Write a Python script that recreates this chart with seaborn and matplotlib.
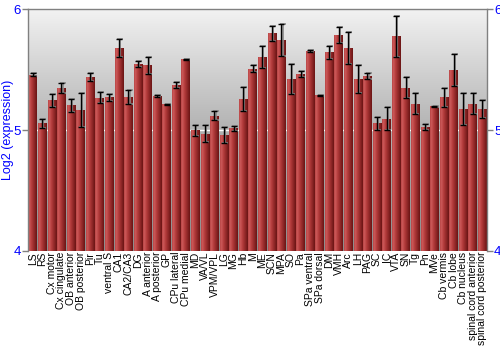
import numpy as np
import pandas as pd
import matplotlib
matplotlib.use("Agg")
import matplotlib.pyplot as plt
import seaborn as sns
from matplotlib.colors import LinearSegmentedColormap

regions = ["LS", "RS", "Cx motor", "Cx cingulate", "OB anterior", "OB posterior", "Pir", "Tu",
           "ventral S", "CA1", "CA2/CA3", "DG", "A anterior", "A posterior", "GP", "CPu lateral",
           "CPu medial", "MD", "VA/VL", "VPM/VPL", "LG", "MG", "Hb", "M", "ME", "SCN", "MPA", "SO",
           "Pa", "SPa ventral", "SPa dorsal", "DM", "VMH", "Arc", "LH", "PAG", "SC", "IC", "VTA",
           "SN", "Tg", "Pn", "MVe", "Cb vermis", "Cb lobe", "Cb nucleus", "spinal cord anterior",
           "spinal cord posterior"]
values = [5.46, 5.055, 5.246, 5.348, 5.204, 5.168, 5.436, 5.268, 5.271, 5.682, 5.273, 5.547,
          5.536, 5.282, 5.213, 5.373, 5.588, 4.997, 4.970, 5.119, 4.959, 5.014, 5.257, 5.508,
          5.605, 5.801, 5.746, 5.423, 5.464, 5.655, 5.287, 5.646, 5.790, 5.680, 5.420, 5.450,
          5.055, 5.094, 5.779, 5.351, 5.218, 5.025, 5.199, 5.273, 5.497, 5.174, 5.218, 5.174]
errors = [0.01, 0.04, 0.056, 0.04, 0.055, 0.14, 0.033, 0.045, 0.03, 0.076, 0.057, 0.028,
          0.072, 0.006, 0.003, 0.026, 0.005, 0.044, 0.073, 0.039, 0.069, 0.022, 0.097, 0.03,
          0.09, 0.065, 0.13, 0.124, 0.023, 0.012, 0.002, 0.055, 0.068, 0.13, 0.117, 0.026,
          0.056, 0.095, 0.17, 0.086, 0.088, 0.022, 0.004, 0.079, 0.134, 0.135, 0.088, 0.072]
y_ticks = [4, 5, 6]

sns.set_theme(style="white")
plt.rcParams["font.family"] = ["Liberation Sans", "DejaVu Sans"]

fig = plt.figure(figsize=(5, 3.5), dpi=100)
ax = fig.add_axes([0.056, 0.284, 0.918, 0.689])

df = pd.DataFrame({"region": regions, "value": values})
sns.barplot(data=df, x="region", y="value", ax=ax, color="#b03a3a", width=0.9,
            errorbar=None, zorder=2, saturation=1)

ax.set_xlim(-0.5, len(regions) - 0.5)
ax.set_ylim(4, 6)

# background vertical gradient
bg_cmap = LinearSegmentedColormap.from_list("bg", ["#8c8c8c", "#b2b2b2", "#f2f2f2"])
grad_v = np.linspace(0, 1, 256).reshape(-1, 1)
ax.imshow(grad_v, extent=[-0.5, len(regions) - 0.5, 4, 6], origin="lower", cmap=bg_cmap,
          aspect="auto", zorder=0)
ax.axhline(5, color="white", lw=1, zorder=1)

# bar horizontal gradient
bar_cmap = LinearSegmentedColormap.from_list(
    "bar", [(0.0, "#b84444"), (0.15, "#cc5a5a"), (0.4, "#b53c3c"), (1.0, "#6a1414")])
grad_h = np.linspace(0, 1, 64).reshape(1, -1)
for p in ax.patches:
    x0 = p.get_x(); w = p.get_width(); h = p.get_height()
    im = ax.imshow(grad_h, extent=[x0, x0 + w, 4, h], cmap=bar_cmap, aspect="auto", zorder=2.5)
    im.set_clip_path(p)
    p.set_edgecolor("none")

ax.set_xlim(-0.5, len(regions) - 0.5)
ax.set_ylim(4, 6)

centers = [p.get_x() + p.get_width() / 2 for p in ax.patches]
ax.errorbar(np.array(centers) + 0.12, values, yerr=errors, fmt="none", ecolor="#8a8a8a",
            elinewidth=1.2, capsize=2, capthick=1.2, zorder=3)
ax.errorbar(centers, values, yerr=errors, fmt="none", ecolor="black",
            elinewidth=1, capsize=2, capthick=1, zorder=4)

ax.set_yticks(y_ticks)
ax.set_yticklabels([str(t) for t in y_ticks])
ax.tick_params(axis="y", which="both", left=True, right=True, labelleft=True, labelright=True,
               length=4, width=1, color="#808080", labelcolor="#0000ff", labelsize=9.5, pad=1)
ax.tick_params(axis="x", length=0, labelsize=7.5, pad=1, labelrotation=90, labelcolor="black")
ax.set_xlabel("")
ax.set_ylabel("Log2 (expression)", color="#0000ff", fontsize=9, labelpad=0)

for s in ["top", "left", "right"]:
    ax.spines[s].set_color("#808080")
    ax.spines[s].set_linewidth(1)
ax.spines["bottom"].set_visible(False)

fig.savefig("out.png", dpi=100)
